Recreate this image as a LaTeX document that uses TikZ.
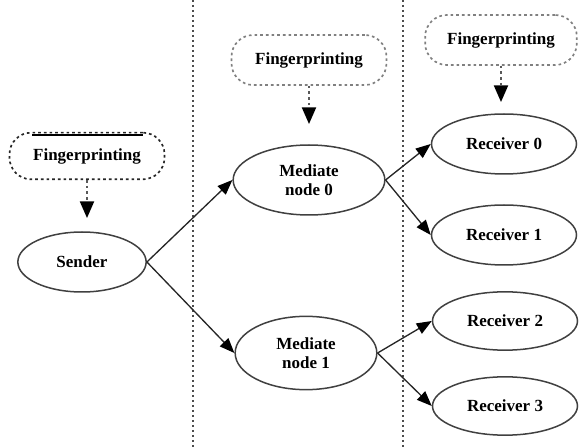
\documentclass[tikz,border=0pt]{standalone}
\usepackage{fontspec}
\setmainfont{Liberation Serif}
\usetikzlibrary{shapes.geometric,arrows.meta}

\begin{document}
\begin{tikzpicture}[x=0.6pt, y=-0.6pt, font=\bfseries\fontsize{10.2}{11.5}\selectfont,
    ell/.style = {draw=black!75, line width=0.9pt, ellipse, inner sep=0pt, align=center,
                  minimum width=87pt, minimum height=36pt},
    fp/.style = {draw=black!50, line width=1pt, dash pattern=on 1.6pt off 1.8pt,
                 rounded corners=13pt, minimum width=93pt, minimum height=30pt},
    link/.style = {draw=black!85, line width=0.8pt, -{Triangle[length=9pt,width=7pt,color=black]}},
    fplink/.style = {draw=black!65, line width=1pt, dash pattern=on 1.6pt off 1.8pt,
                     -{Triangle[length=10pt,width=8.5pt,color=black]}},
    sep/.style = {draw=black!70, line width=0.9pt, dash pattern=on 1.2pt off 1.8pt}]
  \useasboundingbox (0,0) rectangle (579,447);

  % column separators
  \draw[sep] (193,0) -- (193,447);
  \draw[sep] (403,0) -- (403,447);

  \node[ell, minimum width=77pt] (snd) at (82,262) {Sender};
  \node[ell, minimum width=91pt, minimum height=42pt] (m0) at (309,180) {Mediate\\node 0};
  \node[ell, minimum width=85pt, minimum height=44pt] (m1) at (306,353) {Mediate\\node 1};
  \node[ell] (r0) at (504,144) {Receiver\ 0};
  \node[ell] (r1) at (504,235) {Receiver\ 1};
  \node[ell, minimum height=35pt] (r2) at (505,321) {Receiver\ 2};
  \node[ell, minimum height=35pt] (r3) at (505,406) {Receiver\ 3};

  \node[fp, draw=black!85, minimum height=28pt] (fp1) at (87,156) {Fingerprinting};
  \node[fp] (fp2) at (309,60) {Fingerprinting};
  \node[fp, minimum width=91pt] (fp3) at (501,40) {Fingerprinting};
  \draw[line width=1pt] (32,135) -- (143,135);

  \coordinate (t1) at (87,218);
  \coordinate (t2) at (309,124);
  \coordinate (t3) at (501,102);
  \draw[fplink] (fp1.south) -- (t1);
  \draw[fplink] (fp2.south) -- (t2);
  \draw[fplink] (fp3.south) -- (t3);

  \draw[link] (snd.east) -- (m0.west);
  \draw[link] (snd.east) -- (m1.west);
  \draw[link] (m0.east) -- (r0.west);
  \draw[link] (m0.east) -- (r1.west);
  \draw[link] (m1.east) -- (r2.west);
  \draw[link] (m1.east) -- (r3.west);
\end{tikzpicture}
\end{document}
